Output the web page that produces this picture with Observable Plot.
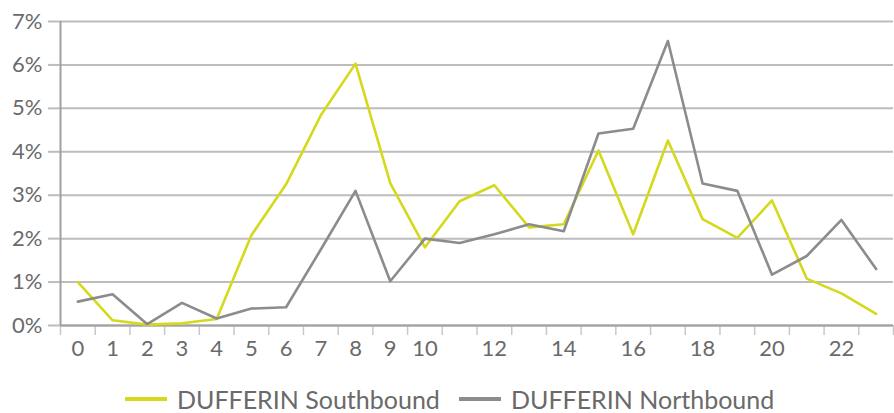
<!DOCTYPE html>
<html>
<head>
<meta charset="utf-8">
<script src="https://cdn.jsdelivr.net/npm/d3@7"></script>
<script src="https://cdn.jsdelivr.net/npm/@observablehq/plot@0.6"></script>
<style>
  html, body { margin: 0; padding: 0; background: #fff; }
  #chart { width: 894px; }
  .legend { position: relative; height: 43px; font-family: Lato, "DejaVu Sans", sans-serif; font-size: 25px; color: #6a6a6a; }
  .legend span.item { position: absolute; top: 0; display: flex; align-items: center; height: 30px; line-height: 30px; }
  .legend span.sw { display: inline-block; width: 42px; height: 4px; margin-right: 10px; }
</style>
</head>
<body>
<div id="chart"></div>
<script>
const hours = [0,1,2,3,4,5,6,7,8,9,10,11,12,13,14,15,16,17,18,19,20,21,22,23];
const southbound = [1.0,0.12,0.02,0.05,0.15,2.08,3.25,4.84,6.03,3.28,1.8,2.86,3.23,2.26,2.33,4.03,2.1,4.26,2.45,2.02,2.88,1.08,0.74,0.27];
const northbound = [0.55,0.72,0.03,0.52,0.16,0.39,0.42,1.75,3.1,1.02,2.0,1.9,2.1,2.33,2.17,4.42,4.53,6.55,3.27,3.1,1.17,1.6,2.43,1.3];
const yTicks = [0,1,2,3,4,5,6,7];
const xLabels = [0,1,2,3,4,5,6,7,8,9,10,12,14,16,18,20,22];
const seriesNames = ["DUFFERIN Southbound", "DUFFERIN Northbound"];
const colors = ["#d5d91c", "#8c8c8c"];

const data = [];
hours.forEach((h, i) => {
  data.push({hour: h, value: southbound[i], series: seriesNames[0]});
  data.push({hour: h, value: northbound[i], series: seriesNames[1]});
});
const bounds = hours.map(h => h - 0.5).concat([hours[hours.length - 1] + 0.5]);

const chart = Plot.plot({
  width: 894,
  height: 370,
  marginLeft: 60,
  marginRight: 1,
  marginTop: 21,
  marginBottom: 45,
  style: {fontFamily: "Lato, 'DejaVu Sans', sans-serif", fontSize: "22px", color: "#6a6a6a", background: "#fff"},
  x: {type: "linear", domain: [-0.5, 23.5]},
  y: {type: "linear", domain: [0, 7]},
  color: {domain: seriesNames, range: colors},
  marks: [
    Plot.gridY(yTicks, {stroke: "#bdbdbd", strokeOpacity: 1, strokeWidth: 2}),
    Plot.axisY(yTicks, {tickSize: 12, stroke: "#bdbdbd", strokeWidth: 2, tickPadding: 6, tickFormat: d => d + "%", label: null, fill: "#6a6a6a", fontSize: 22}),
    Plot.axisX(bounds, {tickSize: 10, stroke: "#c8c8c8", strokeWidth: 1.5, tickFormat: () => "", label: null}),
    Plot.axisX(xLabels, {tickSize: 0, tickPadding: 15, tickFormat: d => String(d), label: null, fill: "#6a6a6a", fontSize: 22}),
    Plot.ruleY([0], {stroke: "#a0a0a0", strokeWidth: 2}),
    Plot.ruleX([-0.5], {stroke: "#a0a0a0", strokeWidth: 2}),
    Plot.line(data, {x: "hour", y: "value", z: "series", stroke: "series", strokeWidth: 2.6})
  ]
});
document.getElementById("chart").appendChild(chart);

const legend = document.createElement("div");
legend.className = "legend";
const lefts = [125, 459];
seriesNames.forEach((name, i) => {
  const item = document.createElement("span");
  item.className = "item";
  item.style.left = lefts[i] + "px";
  item.style.top = "14px";
  const sw = document.createElement("span");
  sw.className = "sw";
  sw.style.background = colors[i];
  item.appendChild(sw);
  item.appendChild(document.createTextNode(name));
  legend.appendChild(item);
});
document.getElementById("chart").appendChild(legend);
</script>
</body>
</html>
